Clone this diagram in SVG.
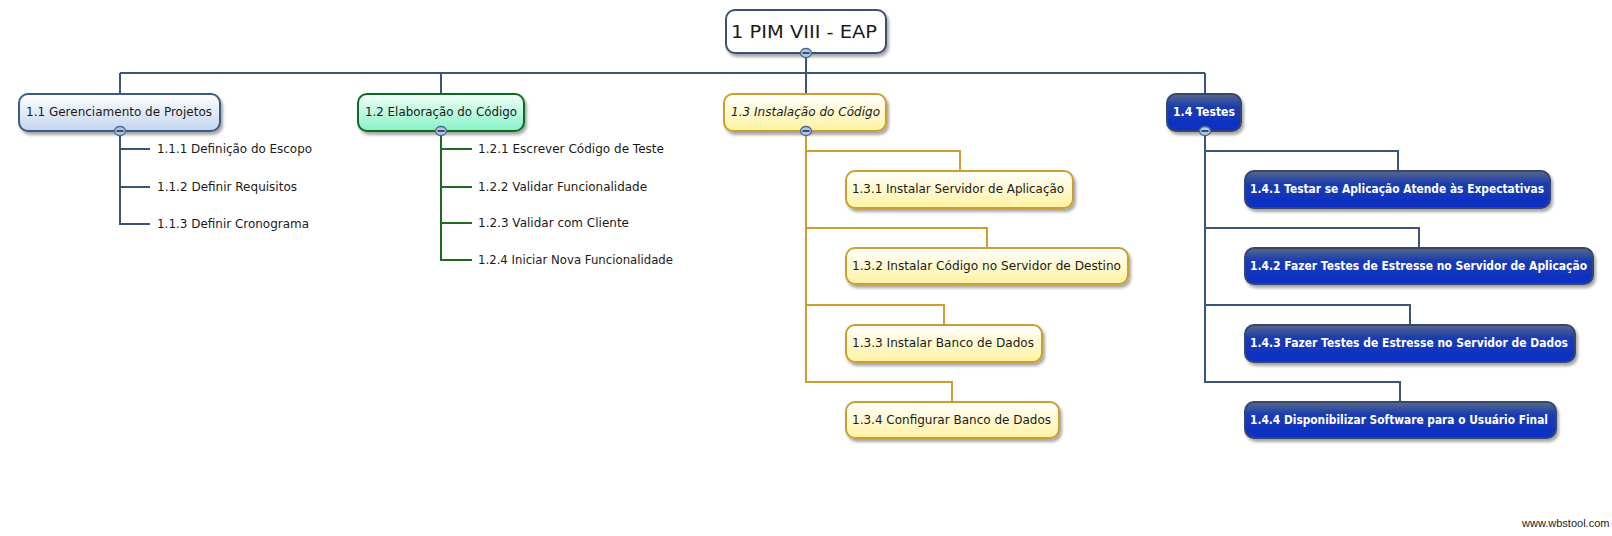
<svg xmlns="http://www.w3.org/2000/svg" width="1612" height="536" viewBox="0 0 1612 536">
<style>
text{font-family:"DejaVu Sans",Verdana,sans-serif;font-size:12.5px;fill:#1a1a1a}
.root{font-size:18px}
.it{font-style:italic}
.wt{fill:#ffffff;font-weight:bold;font-family:"DejaVu Sans",sans-serif}
.wm{font-family:"Liberation Sans",Arial,sans-serif;font-size:11px;fill:#222}
.box{stroke-width:2}
.cb{fill:none;stroke:#3b5578;stroke-width:2}
.cg{fill:none;stroke:#1d6b1d;stroke-width:2}
.cy{fill:none;stroke:#c9a030;stroke-width:2}
.col{fill:#b4c6de;stroke:#4a6890;stroke-width:1.3}
.minus{stroke:#34507a;stroke-width:2}
</style>
<defs>
<filter id="sh" x="-10%" y="-20%" width="130%" height="160%">
<feDropShadow dx="2" dy="3" stdDeviation="1.5" flood-color="#000" flood-opacity="0.35"/>
</filter>
<linearGradient id="gBlue" x1="0" y1="0" x2="0" y2="1"><stop offset="0" stop-color="#ffffff"/><stop offset="1" stop-color="#c3d5ee"/></linearGradient>
<linearGradient id="gGreen" x1="0" y1="0" x2="0" y2="1"><stop offset="0" stop-color="#f2fff8"/><stop offset="1" stop-color="#86f2c6"/></linearGradient>
<linearGradient id="gYel" x1="0" y1="0" x2="0" y2="1"><stop offset="0" stop-color="#ffffff"/><stop offset="1" stop-color="#fff2a0"/></linearGradient>
<linearGradient id="gDark" x1="0" y1="0" x2="0" y2="1"><stop offset="0" stop-color="#5a6888"/><stop offset="0.35" stop-color="#1a3cb0"/><stop offset="1" stop-color="#0a2ec8"/></linearGradient>
</defs>
<rect width="1612" height="536" fill="#ffffff"/>

<g id="connectors">
<path class="cb" d="M806,53 V94 M120,73 H1205 M120,73 V94 M441,73 V94 M1205,73 V94"/>
<path class="cb" d="M120,131 V224 H150 M120,149 H150 M120,187 H150"/>
<path class="cg" d="M441,131 V260 H472 M441,149 H472 M441,187 H472 M441,223 H472"/>
<path class="cy" d="M806,131 V382 H952 V402 M806,151 H960 V171 M806,228 H987 V248 M806,305 H944 V325"/>
<path class="cb" d="M1205,131 V382 H1400 V402 M1205,151 H1398 V171 M1205,228 H1419 V248 M1205,305 H1410 V325"/>
</g>

<g id="n1">
<rect class="box" x="726" y="10" width="160" height="43" rx="9" fill="#ffffff" stroke="#3d5070" filter="url(#sh)"/>
<text class="root" x="731" y="38" textLength="146" lengthAdjust="spacingAndGlyphs">1 PIM VIII - EAP</text>
<ellipse class="col" cx="806" cy="53" rx="5.5" ry="4.5"/><line class="minus" x1="802.5" y1="53" x2="809.5" y2="53"/>
</g>

<g id="n1_1">
<rect class="box" x="19" y="94" width="201" height="37" rx="9" fill="url(#gBlue)" stroke="#3d5a80" filter="url(#sh)"/>
<text x="26" y="116" textLength="186" lengthAdjust="spacingAndGlyphs">1.1 Gerenciamento de Projetos</text>
<ellipse class="col" cx="120" cy="131" rx="5.5" ry="4.5"/><line class="minus" x1="116.5" y1="131" x2="123.5" y2="131"/>
</g>
<g id="n1_1_1"><text x="157" y="153" textLength="155" lengthAdjust="spacingAndGlyphs">1.1.1 Definição do Escopo</text></g>
<g id="n1_1_2"><text x="157" y="191" textLength="140" lengthAdjust="spacingAndGlyphs">1.1.2 Definir Requisitos</text></g>
<g id="n1_1_3"><text x="157" y="228" textLength="152" lengthAdjust="spacingAndGlyphs">1.1.3 Definir Cronograma</text></g>

<g id="n1_2">
<rect class="box" x="358" y="94" width="166" height="37" rx="9" fill="url(#gGreen)" stroke="#0c6a20" filter="url(#sh)"/>
<text x="365" y="116" textLength="152" lengthAdjust="spacingAndGlyphs">1.2 Elaboração do Código</text>
<ellipse class="col" cx="441" cy="131" rx="5.5" ry="4.5"/><line class="minus" x1="437.5" y1="131" x2="444.5" y2="131"/>
</g>
<g id="n1_2_1"><text x="478" y="153" textLength="186" lengthAdjust="spacingAndGlyphs">1.2.1 Escrever Código de Teste</text></g>
<g id="n1_2_2"><text x="478" y="191" textLength="169" lengthAdjust="spacingAndGlyphs">1.2.2 Validar Funcionalidade</text></g>
<g id="n1_2_3"><text x="478" y="227" textLength="151" lengthAdjust="spacingAndGlyphs">1.2.3 Validar com Cliente</text></g>
<g id="n1_2_4"><text x="478" y="264" textLength="195" lengthAdjust="spacingAndGlyphs">1.2.4 Iniciar Nova Funcionalidade</text></g>

<g id="n1_3">
<rect class="box" x="724" y="94" width="162" height="37" rx="9" fill="url(#gYel)" stroke="#c8a030" filter="url(#sh)"/>
<text class="it" x="731" y="116" textLength="149" lengthAdjust="spacingAndGlyphs">1.3 Instalação do Código</text>
<ellipse class="col" cx="806" cy="131" rx="5.5" ry="4.5"/><line class="minus" x1="802.5" y1="131" x2="809.5" y2="131"/>
</g>
<g id="n1_3_1">
<rect class="box" x="846" y="171" width="227" height="37" rx="9" fill="url(#gYel)" stroke="#c8a030" filter="url(#sh)"/>
<text x="852" y="193" textLength="212" lengthAdjust="spacingAndGlyphs">1.3.1 Instalar Servidor de Aplicação</text>
</g>
<g id="n1_3_2">
<rect class="box" x="846" y="248" width="282" height="36" rx="9" fill="url(#gYel)" stroke="#c8a030" filter="url(#sh)"/>
<text x="852" y="270" textLength="269" lengthAdjust="spacingAndGlyphs">1.3.2 Instalar Código no Servidor de Destino</text>
</g>
<g id="n1_3_3">
<rect class="box" x="846" y="325" width="196" height="37" rx="9" fill="url(#gYel)" stroke="#c8a030" filter="url(#sh)"/>
<text x="852" y="347" textLength="182" lengthAdjust="spacingAndGlyphs">1.3.3 Instalar Banco de Dados</text>
</g>
<g id="n1_3_4">
<rect class="box" x="846" y="402" width="213" height="36" rx="9" fill="url(#gYel)" stroke="#c8a030" filter="url(#sh)"/>
<text x="852" y="424" textLength="199" lengthAdjust="spacingAndGlyphs">1.3.4 Configurar Banco de Dados</text>
</g>

<g id="n1_4">
<rect class="box" x="1167" y="94" width="74" height="37" rx="9" fill="url(#gDark)" stroke="#34466a" filter="url(#sh)"/>
<text class="wt" x="1173" y="116" textLength="62" lengthAdjust="spacingAndGlyphs">1.4 Testes</text>
<ellipse class="col" cx="1205" cy="131" rx="5.5" ry="4.5"/><line class="minus" x1="1201.5" y1="131" x2="1208.5" y2="131"/>
</g>
<g id="n1_4_1">
<rect class="box" x="1245" y="171" width="305" height="37" rx="9" fill="url(#gDark)" stroke="#34466a" filter="url(#sh)"/>
<text class="wt" x="1250" y="193" textLength="294" lengthAdjust="spacingAndGlyphs">1.4.1 Testar se Aplicação Atende às Expectativas</text>
</g>
<g id="n1_4_2">
<rect class="box" x="1245" y="248" width="348" height="36" rx="9" fill="url(#gDark)" stroke="#34466a" filter="url(#sh)"/>
<text class="wt" x="1250" y="270" textLength="337" lengthAdjust="spacingAndGlyphs">1.4.2 Fazer Testes de Estresse no Servidor de Aplicação</text>
</g>
<g id="n1_4_3">
<rect class="box" x="1245" y="325" width="330" height="37" rx="9" fill="url(#gDark)" stroke="#34466a" filter="url(#sh)"/>
<text class="wt" x="1250" y="347" textLength="318" lengthAdjust="spacingAndGlyphs">1.4.3 Fazer Testes de Estresse no Servidor de Dados</text>
</g>
<g id="n1_4_4">
<rect class="box" x="1245" y="402" width="311" height="36" rx="9" fill="url(#gDark)" stroke="#34466a" filter="url(#sh)"/>
<text class="wt" x="1250" y="424" textLength="298" lengthAdjust="spacingAndGlyphs">1.4.4 Disponibilizar Software para o Usuário Final</text>
</g>

<text class="wm" x="1522" y="527">www.wbstool.com</text>
</svg>
